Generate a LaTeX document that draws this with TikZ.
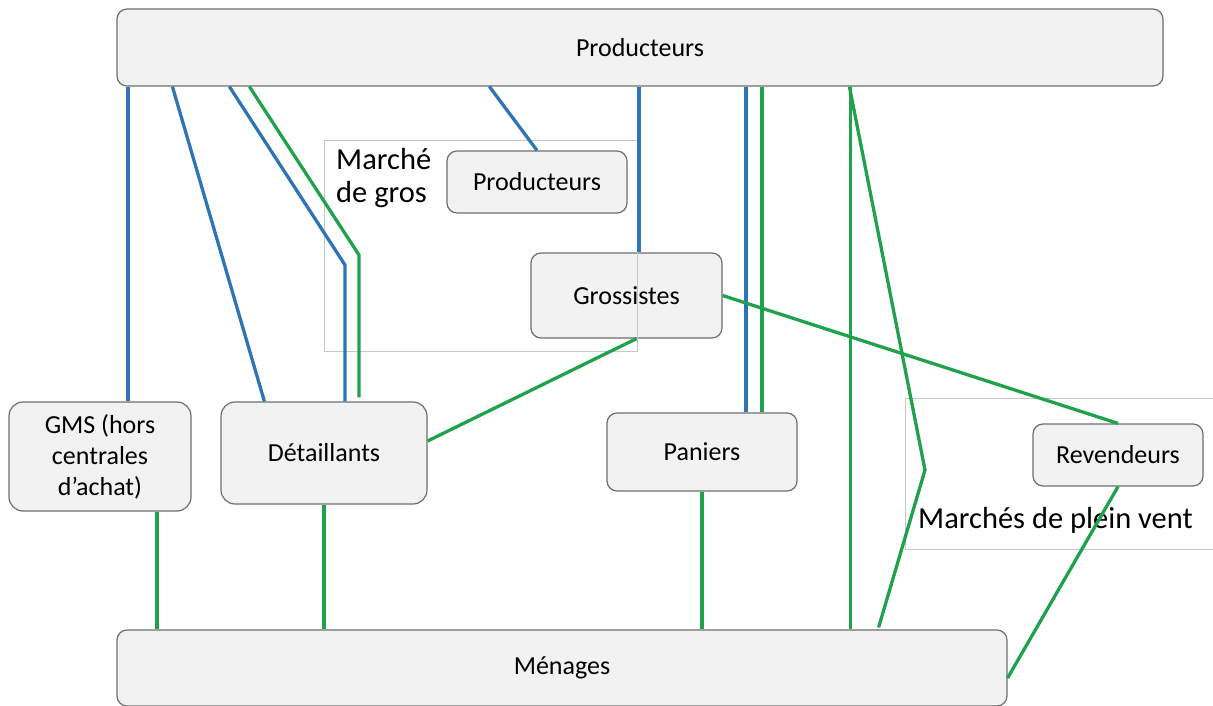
\documentclass[tikz,border=0pt]{standalone}
\usepackage{fontspec}
\setmainfont{Carlito}
\usetikzlibrary{calc}

\definecolor{linkblue}{RGB}{46,117,182}
\definecolor{linkgreen}{RGB}{32,162,76}
\definecolor{boxfill}{RGB}{242,242,242}
\definecolor{boxdraw}{RGB}{110,110,110}
\definecolor{framedraw}{RGB}{200,200,200}

\begin{document}
\begin{tikzpicture}[x=1pt, y=-1pt,
              box/.style = {draw=boxdraw, fill=boxfill, line width=1.2pt, rounded corners=10pt,
                            align=center, inner sep=0pt, font=\fontsize{26}{31}\selectfont},
              frame/.style = {draw=framedraw, line width=0.9pt},
              framelabel/.style = {align=left, inner sep=0pt, font=\fontsize{30.5}{33}\selectfont},
              blueline/.style = {draw=linkblue, line width=3.3pt},
              greenline/.style = {draw=linkgreen, line width=3.3pt}]
  \useasboundingbox (0,0) rectangle (1213,706);

  % boxes
  \node[box, minimum width=1046pt, minimum height=77pt] (prodtop) at (640,47.5) {Producteurs};
  \node[box, minimum width=180pt, minimum height=62pt] (prodin) at (537,182) {Producteurs};
  \node[box, minimum width=191pt, minimum height=85pt] (gross) at (626.5,295.5) {Grossistes};
  \node[box, minimum width=182pt, minimum height=109pt, rounded corners=14pt] (gms) at (100,456.5)
    {GMS (hors\\centrales\\d’achat)};
  \node[box, minimum width=206pt, minimum height=102pt, rounded corners=14pt] (detail) at (324,453) {Détaillants};
  \node[box, minimum width=190pt, minimum height=78pt] (paniers) at (702,452) {Paniers};
  \node[box, minimum width=170pt, minimum height=62pt] (revend) at (1118,455) {Revendeurs};
  \node[box, minimum width=890pt, minimum height=76pt] (menages) at (562,668) {Ménages};

  % market frames
  \draw[frame] (324,140) rectangle (637,351);
  \node[framelabel, anchor=north west] (grostxt) at (336,148) {Marché\\de gros};
  \draw[frame] (905,398) rectangle (1220,549);
  \node[framelabel, anchor=base west] (ventxt) at (918,528) {Marchés de plein vent};

  % bends
  \coordinate (bendblue) at (345,265);
  \coordinate (bendgreen) at (359,255);
  \coordinate (bendvent) at (925,470);

  % blue links
  \draw[blueline] ([xshift=28pt]gms.north) -- ([xshift=28pt]gms.north |- prodtop.south);
  \draw[blueline] ([xshift=56pt]prodtop.south west) -- ([xshift=44pt]detail.north west);
  \draw[blueline] ([xshift=113pt]prodtop.south west) -- (bendblue) -- ([xshift=21pt]detail.north);
  \draw[blueline] ([xshift=373pt]prodtop.south west) -- (prodin.north);
  \draw[blueline] ([xshift=12.5pt]gross.north) -- ([xshift=12.5pt]gross.north |- prodtop.south);
  \draw[blueline] ([xshift=44pt]paniers.north) -- ([xshift=44pt]paniers.north |- prodtop.south);

  % green links
  \draw[greenline] ([xshift=133pt]prodtop.south west) -- (bendgreen) -- ([xshift=35pt,yshift=4pt]detail.north);
  \draw[greenline] ([xshift=60pt]paniers.north) -- ([xshift=60pt]paniers.north |- prodtop.south);
  \draw[greenline] ([xshift=-157pt]menages.north east) -- ([xshift=-157pt]menages.north east |- prodtop.south);
  \draw[greenline] ([xshift=733pt]prodtop.south west) -- (bendvent) -- ([xshift=-129pt,yshift=2pt]menages.north east);
  \draw[greenline] (gross.east) -- (revend.north);
  \draw[greenline] ([xshift=10pt]gross.south) -- ([yshift=12pt]detail.east);
  \draw[greenline] ([xshift=57pt]gms.south) -- ([xshift=57pt]gms.south |- menages.north);
  \draw[greenline] (detail.south) -- (detail.south |- menages.north);
  \draw[greenline] (paniers.south) -- (paniers.south |- menages.north);
  \draw[greenline] (revend.south) -- ([yshift=-10pt]menages.east);
\end{tikzpicture}
\end{document}
